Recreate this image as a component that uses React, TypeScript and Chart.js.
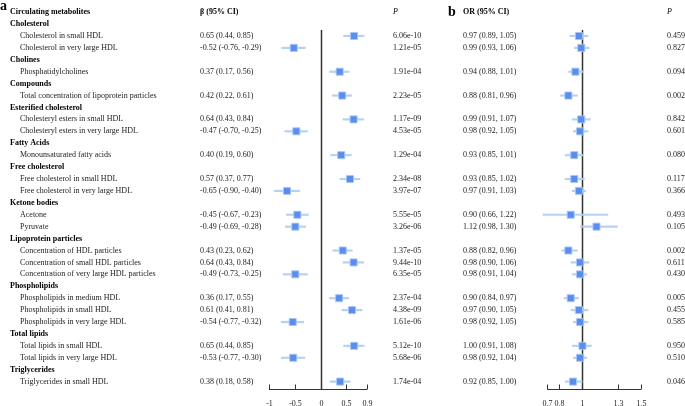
import React, { useEffect, useRef } from "react";
import { Chart, registerables } from "chart.js";
Chart.register(...registerables);

const groups = [
  "Cholesterol", "Cholines", "Compounds", "Esterified cholesterol", "Fatty Acids",
  "Free cholesterol", "Ketone bodies", "Lipoprotein particles", "Phospholipids",
  "Total lipids", "Triglycerides",
];
const metabolites = [
  "Cholesterol in small HDL", "Cholesterol in very large HDL", "Phosphatidylcholines",
  "Total concentration of lipoprotein particles", "Cholesteryl esters in small HDL",
  "Cholesteryl esters in very large HDL", "Monounsaturated fatty acids",
  "Free cholesterol in small HDL", "Free cholesterol in very large HDL", "Acetone", "Pyruvate",
  "Concentration of HDL particles", "Concentration of small HDL particles",
  "Concentration of very large HDL particles", "Phospholipids in medium HDL",
  "Phospholipids in small HDL", "Phospholipids in very large HDL", "Total lipids in small HDL",
  "Total lipids in very large HDL", "Triglycerides in small HDL",
];
const groupOf = [0, 0, 1, 2, 3, 3, 4, 5, 5, 6, 6, 7, 7, 7, 8, 8, 8, 9, 9, 10];

const beta = [0.65, -0.52, 0.37, 0.42, 0.64, -0.47, 0.40, 0.57, -0.65, -0.45, -0.49, 0.43, 0.64, -0.49, 0.36, 0.61, -0.54, 0.65, -0.53, 0.38];
const betaLow = [0.44, -0.76, 0.17, 0.22, 0.43, -0.70, 0.19, 0.37, -0.90, -0.67, -0.69, 0.23, 0.43, -0.73, 0.17, 0.41, -0.77, 0.44, -0.77, 0.18];
const betaHigh = [0.85, -0.29, 0.56, 0.61, 0.84, -0.25, 0.60, 0.77, -0.40, -0.23, -0.28, 0.62, 0.84, -0.25, 0.55, 0.81, -0.32, 0.85, -0.30, 0.58];
const betaP = ["6.06e-10", "1.21e-05", "1.91e-04", "2.23e-05", "1.17e-09", "4.53e-05", "1.29e-04", "2.34e-08", "3.97e-07", "5.55e-05", "3.26e-06", "1.37e-05", "9.44e-10", "6.35e-05", "2.37e-04", "4.38e-09", "1.61e-06", "5.12e-10", "5.68e-06", "1.74e-04"];

const orVal = [0.97, 0.99, 0.94, 0.88, 0.99, 0.98, 0.93, 0.93, 0.97, 0.90, 1.12, 0.88, 0.98, 0.98, 0.90, 0.97, 0.98, 1.00, 0.98, 0.92];
const orLow = [0.89, 0.93, 0.88, 0.81, 0.91, 0.92, 0.85, 0.85, 0.91, 0.66, 0.98, 0.82, 0.90, 0.91, 0.84, 0.90, 0.92, 0.91, 0.92, 0.85];
const orHigh = [1.05, 1.06, 1.01, 0.96, 1.07, 1.05, 1.01, 1.02, 1.03, 1.22, 1.30, 0.96, 1.06, 1.04, 0.97, 1.05, 1.05, 1.08, 1.04, 1.00];
const orP = ["0.459", "0.827", "0.094", "0.002", "0.842", "0.601", "0.080", "0.117", "0.366", "0.493", "0.105", "0.002", "0.611", "0.430", "0.005", "0.455", "0.585", "0.950", "0.510", "0.046"];

const betaTicks = [-1, -0.5, 0, 0.5, 0.9];
const orTicks = [0.7, 0.8, 1, 1.3, 1.5];

const FONT = "'Liberation Serif', 'Times New Roman', serif";

type Row = { kind: "group" | "item"; idx: number; row: number };
function buildRows(): Row[] {
  const rows: Row[] = [];
  let r = 1;
  let last = -1;
  metabolites.forEach((_, i) => {
    if (groupOf[i] !== last) {
      rows.push({ kind: "group", idx: groupOf[i], row: r++ });
      last = groupOf[i];
    }
    rows.push({ kind: "item", idx: i, row: r++ });
  });
  return rows;
}
const rows = buildRows();

const fmt = (v: number, l: number, h: number) => `${v.toFixed(2)} (${l.toFixed(2)}, ${h.toFixed(2)})`;

type PanelCfg = {
  width: number;
  padLeft: number;
  padRight: number;
  xMin: number;
  xMax: number;
  ref: number;
  ticks: number[];
  vals: number[];
  lows: number[];
  highs: number[];
  ps: string[];
  letter: string;
  letterX: number;
  letterY: number;
  letterSize: number;
  showNames: boolean;
  estHeader: string;
  estX: number;
  pX: number;
};

function makePlugin(cfg: PanelCfg) {
  return {
    id: "forest",
    beforeDatasetsDraw(chart: any) {
      const { ctx, scales, chartArea } = chart;
      const x = scales.x, y = scales.y;
      ctx.save();
      // reference line
      ctx.strokeStyle = "#333";
      ctx.lineWidth = 1.5;
      const zx = Math.round(x.getPixelForValue(cfg.ref)) + 0.5;
      ctx.beginPath();
      ctx.moveTo(zx, chartArea.top);
      ctx.lineTo(zx, chartArea.bottom);
      ctx.stroke();
      // CI bars
      ctx.strokeStyle = "rgba(178, 207, 243, 0.95)";
      ctx.lineWidth = 2.2;
      ctx.lineCap = "butt";
      rows.forEach((rw) => {
        if (rw.kind !== "item") return;
        const py = y.getPixelForValue(rw.row);
        ctx.beginPath();
        ctx.moveTo(x.getPixelForValue(cfg.lows[rw.idx]), py);
        ctx.lineTo(x.getPixelForValue(cfg.highs[rw.idx]), py);
        ctx.stroke();
      });
      // axis
      ctx.strokeStyle = "#333";
      ctx.lineWidth = 1;
      const ay = Math.round(chartArea.bottom) + 0.5;
      ctx.beginPath();
      ctx.moveTo(x.getPixelForValue(cfg.ticks[0]), ay);
      ctx.lineTo(x.getPixelForValue(cfg.ticks[cfg.ticks.length - 1]), ay);
      ctx.stroke();
      ctx.font = `8px ${FONT}`;
      ctx.fillStyle = "#222";
      ctx.textAlign = "center";
      ctx.textBaseline = "middle";
      cfg.ticks.forEach((t) => {
        const tx = Math.round(x.getPixelForValue(t)) + 0.5;
        ctx.beginPath();
        ctx.moveTo(tx, ay);
        ctx.lineTo(tx, ay - 5);
        ctx.stroke();
        ctx.fillText(String(t), tx, ay + 14);
      });
      ctx.restore();
    },
    afterDraw(chart: any) {
      const { ctx, scales } = chart;
      const y = scales.y;
      ctx.save();
      ctx.textBaseline = "middle";
      ctx.textAlign = "left";
      ctx.fillStyle = "#000";
      ctx.font = `bold ${cfg.letterSize}px ${FONT}`;
      ctx.textBaseline = "alphabetic";
      ctx.fillText(cfg.letter, cfg.letterX, cfg.letterY);
      ctx.textBaseline = "middle";
      const hy = y.getPixelForValue(0);
      ctx.font = `bold 8px ${FONT}`;
      if (cfg.showNames) ctx.fillText("Circulating metabolites", 10, hy);
      ctx.fillText(cfg.estHeader, cfg.estX, hy);
      ctx.font = `italic 8px ${FONT}`;
      ctx.fillText("P", cfg.pX, hy);
      rows.forEach((rw) => {
        const py = y.getPixelForValue(rw.row);
        if (rw.kind === "group") {
          if (cfg.showNames) {
            ctx.font = `bold 8px ${FONT}`;
            ctx.fillStyle = "#000";
            ctx.fillText(groups[rw.idx], 10, py);
          }
        } else {
          ctx.font = `8px ${FONT}`;
          ctx.fillStyle = "#222";
          if (cfg.showNames) ctx.fillText(metabolites[rw.idx], 20, py);
          ctx.fillText(fmt(cfg.vals[rw.idx], cfg.lows[rw.idx], cfg.highs[rw.idx]), cfg.estX, py);
          ctx.fillText(cfg.ps[rw.idx], cfg.pX, py);
        }
      });
      ctx.restore();
    },
  };
}

const HEIGHT = 406;
const TOP = 30;
const BOTTOM = 389;

function Panel({ cfg, left }: { cfg: PanelCfg; left: number }) {
  const ref = useRef<HTMLCanvasElement>(null);
  useEffect(() => {
    if (!ref.current) return;
    const data = rows.filter((r) => r.kind === "item").map((r) => ({ x: cfg.vals[r.idx], y: r.row }));
    const chart = new Chart(ref.current, {
      type: "scatter",
      data: {
        datasets: [
          {
            data,
            pointStyle: "rect",
            pointRadius: 5,
            backgroundColor: "#5b8def",
            borderColor: "rgba(170, 200, 245, 0.9)",
            borderWidth: 1,
            clip: false as any,
          },
        ],
      },
      options: {
        responsive: false,
        animation: false,
        events: [],
        layout: { padding: { left: cfg.padLeft, right: cfg.padRight, top: TOP, bottom: HEIGHT - BOTTOM } },
        scales: {
          x: { type: "linear", min: cfg.xMin, max: cfg.xMax, display: false },
          y: { type: "linear", min: 1.5, max: 31.62, reverse: true, display: false },
        },
        plugins: { legend: { display: false }, tooltip: { enabled: false } },
      },
      plugins: [makePlugin(cfg)],
    });
    return () => chart.destroy();
  }, []);
  return (
    <canvas
      ref={ref}
      width={cfg.width}
      height={HEIGHT}
      style={{ position: "absolute", left, top: 0, width: cfg.width, height: HEIGHT }}
    />
  );
}

const panelA: PanelCfg = {
  width: 445,
  padLeft: 269,
  padRight: 445 - 367,
  xMin: -1,
  xMax: 0.9,
  ref: 0,
  ticks: betaTicks,
  vals: beta,
  lows: betaLow,
  highs: betaHigh,
  ps: betaP,
  letter: "a",
  letterX: 0,
  letterY: 10,
  letterSize: 14,
  showNames: true,
  estHeader: "β (95% CI)",
  estX: 200,
  pX: 393,
};

const panelB: PanelCfg = {
  width: 240,
  padLeft: 547.3 - 445,
  padRight: 685 - 641,
  xMin: 0.7,
  xMax: 1.5,
  ref: 1,
  ticks: orTicks,
  vals: orVal,
  lows: orLow,
  highs: orHigh,
  ps: orP,
  letter: "b",
  letterX: 3,
  letterY: 16,
  letterSize: 14,
  showNames: false,
  estHeader: "OR (95% CI)",
  estX: 18,
  pX: 222,
};

export default function App() {
  return (
    <div style={{ position: "fixed", left: 0, top: 0, width: 685, height: HEIGHT, background: "#fff" }}>
      <Panel cfg={panelA} left={0} />
      <Panel cfg={panelB} left={445} />
    </div>
  );
}
